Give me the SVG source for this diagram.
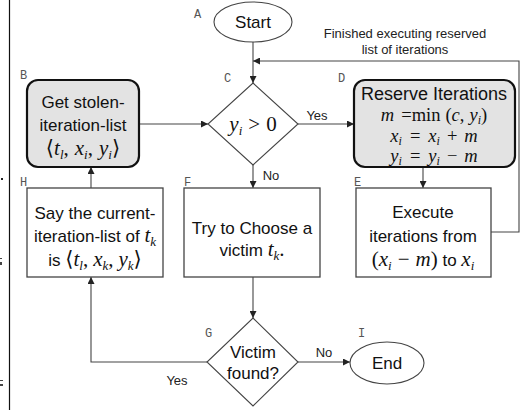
<svg xmlns="http://www.w3.org/2000/svg" width="525" height="410" viewBox="0 0 525 410">
  <defs>
    <marker id="arrow" viewBox="0 0 10 10" refX="10" refY="5" markerWidth="7" markerHeight="7" markerUnits="userSpaceOnUse" orient="auto">
      <path d="M0,0 L10,5 L0,10 z" fill="#222"/>
    </marker>
    <style>
      .lbl { font-family: "Liberation Mono", "DejaVu Sans Mono", monospace; font-size: 12px; fill: #555; }
      .t { font-family: "Liberation Sans", Arial, sans-serif; font-size: 17px; fill: #111; text-anchor: middle; }
      .big { font-size: 18px; }
      .s { font-family: "Liberation Sans", Arial, sans-serif; font-size: 13px; fill: #222; }
      .m { font-family: "Liberation Serif", "DejaVu Serif", serif; font-style: italic; font-size: 21px; }
      .r { font-family: "Liberation Serif", "DejaVu Serif", serif; font-style: normal; font-size: 21px; }
      .sub { font-family: "Liberation Serif", "DejaVu Serif", serif; font-style: italic; font-size: 13px; }
      #D .m, #D .r { font-size: 18.5px; }
      #D .sub { font-size: 12px; }
      .box { fill: #fff; stroke: #444; stroke-width: 1.3; }
      .hl { fill: #e3e3e3; stroke: #111; stroke-width: 2.2; }
      .shape { fill: #fff; stroke: #444; stroke-width: 1.1; }
      .conn { fill: none; stroke: #444; stroke-width: 1.1; }
    </style>
  </defs>
  <rect width="525" height="410" fill="#fff"/>

  <!-- page margin rule and stray marks at the left edge -->
  <line x1="9.5" y1="0" x2="9.5" y2="410" stroke="#111" stroke-width="1.2"/>
  <rect x="1" y="178" width="2" height="2" fill="#222"/>
  <rect x="0" y="258" width="2" height="1" fill="#444"/>
  <rect x="0" y="262" width="2" height="3" fill="#444"/>
  <rect x="0" y="380" width="3" height="1" fill="#444"/>
  <rect x="0" y="384" width="3" height="2" fill="#444"/>

  <!-- connectors -->
  <g id="connectors">
    <line class="conn" x1="253" y1="42" x2="253" y2="83" marker-end="url(#arrow)"/>
    <line class="conn" x1="139" y1="124" x2="208" y2="124" marker-end="url(#arrow)"/>
    <line class="conn" x1="298" y1="124" x2="354" y2="124" marker-end="url(#arrow)"/>
    <line class="conn" x1="253" y1="165" x2="253" y2="188" marker-end="url(#arrow)"/>
    <line class="conn" x1="423" y1="167" x2="423" y2="188" marker-end="url(#arrow)"/>
    <polyline class="conn" points="491,232 519,232 519,61 253,61" marker-end="url(#arrow)"/>
    <line class="conn" x1="91" y1="188" x2="91" y2="167" marker-end="url(#arrow)"/>
    <line class="conn" x1="253" y1="277" x2="253" y2="318" marker-end="url(#arrow)"/>
    <polyline class="conn" points="207,362 91,362 91,277" marker-end="url(#arrow)"/>
    <line class="conn" x1="298" y1="362" x2="350" y2="362" marker-end="url(#arrow)"/>
    <text class="s" x="405" y="38" text-anchor="middle">Finished executing reserved</text>
    <text class="s" x="405" y="54" text-anchor="middle">list of iterations</text>
    <text class="s" x="317" y="120" text-anchor="middle">Yes</text>
    <text class="s" x="271" y="180" text-anchor="middle">No</text>
    <text class="s" x="177" y="385" text-anchor="middle">Yes</text>
    <text class="s" x="324" y="357" text-anchor="middle">No</text>
  </g>

  <!-- A: start -->
  <g id="A">
    <ellipse class="shape" cx="253" cy="22" rx="39" ry="20"/>
    <text class="t" x="253" y="28">Start</text>
    <text class="lbl" x="194" y="18">A</text>
  </g>

  <!-- B: get stolen list -->
  <g id="B">
    <rect class="hl" x="27" y="80" width="112" height="87" rx="11"/>
    <text class="t" x="83" y="108">Get stolen-</text>
    <text class="t" x="83" y="131">iteration-list</text>
    <text class="t" x="83" y="155"><tspan class="r">⟨</tspan><tspan class="m">t</tspan><tspan class="sub" dy="4">l</tspan><tspan class="r" dy="-4">,</tspan><tspan class="m" dx="6">x</tspan><tspan class="sub" dy="4">i</tspan><tspan class="r" dy="-4">,</tspan><tspan class="m" dx="6">y</tspan><tspan class="sub" dy="4">i</tspan><tspan class="r" dy="-4">⟩</tspan></text>
    <text class="lbl" x="20" y="79">B</text>
  </g>

  <!-- C: decision -->
  <g id="C">
    <polygon class="shape" points="253,83 298,124 253,165 208,124"/>
    <text class="t" x="253" y="131"><tspan class="m">y</tspan><tspan class="sub" dy="4">i</tspan><tspan class="r" dy="-4" dx="6">&gt;</tspan><tspan class="r" dx="6">0</tspan></text>
    <text class="lbl" x="224" y="82">C</text>
  </g>

  <!-- D: reserve iterations -->
  <g id="D">
    <rect class="hl" x="354" y="80" width="161" height="87" rx="11"/>
    <text class="t big" x="434" y="100">Reserve Iterations</text>
    <text class="t" x="434" y="121"><tspan class="m">m</tspan><tspan class="r" dx="7">=min</tspan><tspan class="r" dx="5">(</tspan><tspan class="m">c</tspan><tspan class="r">,</tspan><tspan class="m" dx="5">y</tspan><tspan class="sub" dy="3">i</tspan><tspan class="r" dy="-3">)</tspan></text>
    <text class="t" x="434" y="141.5"><tspan class="m">x</tspan><tspan class="sub" dy="3">i</tspan><tspan class="r" dy="-3" dx="8">=</tspan><tspan class="m" dx="8">x</tspan><tspan class="sub" dy="3">i</tspan><tspan class="r" dy="-3" dx="7">+</tspan><tspan class="m" dx="7">m</tspan></text>
    <text class="t" x="434" y="162"><tspan class="m">y</tspan><tspan class="sub" dy="3">i</tspan><tspan class="r" dy="-3" dx="8">=</tspan><tspan class="m" dx="8">y</tspan><tspan class="sub" dy="3">i</tspan><tspan class="r" dy="-3" dx="7">−</tspan><tspan class="m" dx="7">m</tspan></text>
    <text class="lbl" x="338" y="82">D</text>
  </g>

  <!-- E: execute -->
  <g id="E">
    <rect class="box" x="356" y="188" width="135" height="89"/>
    <text class="t" x="423" y="218">Execute</text>
    <text class="t" x="423" y="242">iterations from</text>
    <text class="t" x="423" y="266"><tspan class="r">(</tspan><tspan class="m">x</tspan><tspan class="sub" dy="4">i</tspan><tspan class="r" dy="-4" dx="6">−</tspan><tspan class="m" dx="6">m</tspan><tspan class="r">)</tspan> to <tspan class="m">x</tspan><tspan class="sub" dy="4">i</tspan></text>
    <text class="lbl" x="354" y="186">E</text>
  </g>

  <!-- F: choose victim -->
  <g id="F">
    <rect class="box" x="184" y="188" width="136" height="89"/>
    <text class="t" x="252" y="234">Try to Choose a</text>
    <text class="t" x="252" y="256">victim <tspan class="m">t</tspan><tspan class="sub" dy="4">k</tspan><tspan class="r" dy="-4">.</tspan></text>
    <text class="lbl" x="184" y="186">F</text>
  </g>

  <!-- G: victim found? -->
  <g id="G">
    <polygon class="shape" points="253,318 298,362 253,406 207,362"/>
    <text class="t" x="253" y="358">Victim</text>
    <text class="t" x="253" y="379">found?</text>
    <text class="lbl" x="205" y="337">G</text>
  </g>

  <!-- H: take victim's list -->
  <g id="H">
    <rect class="box" x="27" y="188" width="136" height="89"/>
    <text class="t" x="95" y="219">Say the current-</text>
    <text class="t" x="95" y="242">iteration-list of <tspan class="m">t</tspan><tspan class="sub" dy="4">k</tspan></text>
    <text class="t" x="95" y="266">is <tspan class="r">⟨</tspan><tspan class="m">t</tspan><tspan class="sub" dy="4">l</tspan><tspan class="r" dy="-4">,</tspan><tspan class="m" dx="5">x</tspan><tspan class="sub" dy="4">k</tspan><tspan class="r" dy="-4">,</tspan><tspan class="m" dx="5">y</tspan><tspan class="sub" dy="4">k</tspan><tspan class="r" dy="-4">⟩</tspan></text>
    <text class="lbl" x="20" y="186">H</text>
  </g>

  <!-- I: end -->
  <g id="I">
    <ellipse class="shape" cx="387" cy="363" rx="37" ry="21"/>
    <text class="t" x="387" y="369">End</text>
    <text class="lbl" x="358" y="337">I</text>
  </g>
</svg>
